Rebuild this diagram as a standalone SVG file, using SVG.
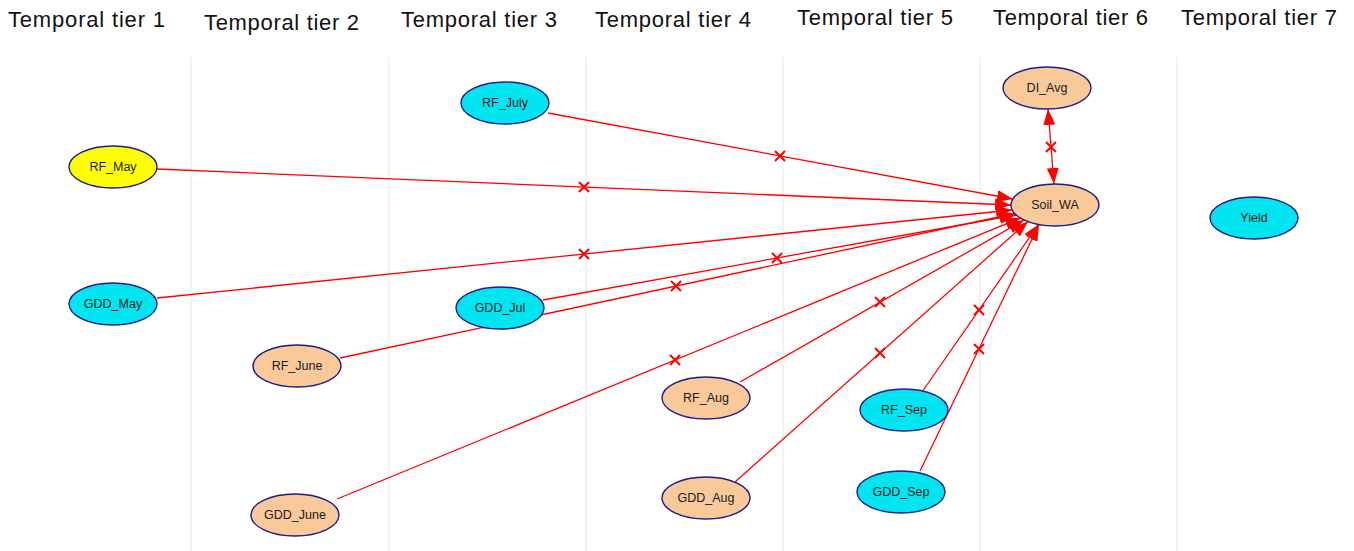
<svg xmlns="http://www.w3.org/2000/svg" width="1354" height="551" viewBox="0 0 1354 551">
<defs>
<style>
.hdr{font-family:"Liberation Sans",Arial,sans-serif;font-size:22px;fill:#111}
.grid{stroke:#ececec;stroke-width:1.2}
.node ellipse{stroke:#1c1c8a;stroke-width:1.4}
.node text{font-family:"Liberation Sans",Arial,sans-serif;font-size:12.5px;fill:#1a1a1a;text-anchor:middle}
.yel{fill:#ffff00}
.cy{fill:#00e5ef}
.pe{fill:#f9c99a}
.edge{stroke:#ff0000;stroke-width:1.3;fill:none}
.xm{stroke:#ff0000;stroke-width:2;fill:none}
</style>
<marker id="ah" viewBox="0 0 16 12" refX="16" refY="6" markerWidth="16" markerHeight="12" markerUnits="userSpaceOnUse" orient="auto-start-reverse">
<path d="M0,0 L16,6 L0,12 Z" fill="#ff0000"/>
</marker>
<path id="x" d="M-5,-5 L5,5 M-5,5 L5,-5"/>
</defs>
<rect width="1354" height="551" fill="#ffffff"/>
<g id="grid">
<line class="grid" x1="191" y1="57" x2="191" y2="551"/>
<line class="grid" x1="389" y1="57" x2="389" y2="551"/>
<line class="grid" x1="586" y1="57" x2="586" y2="551"/>
<line class="grid" x1="783" y1="57" x2="783" y2="551"/>
<line class="grid" x1="980" y1="57" x2="980" y2="551"/>
<line class="grid" x1="1177" y1="57" x2="1177" y2="551"/>
</g>
<g id="headers">
<text class="hdr" x="8" y="27" textLength="157">Temporal tier 1</text>
<text class="hdr" x="204" y="30" textLength="155">Temporal tier 2</text>
<text class="hdr" x="401" y="27" textLength="156">Temporal tier 3</text>
<text class="hdr" x="595" y="27" textLength="156">Temporal tier 4</text>
<text class="hdr" x="797" y="25" textLength="156">Temporal tier 5</text>
<text class="hdr" x="993" y="25" textLength="155">Temporal tier 6</text>
<text class="hdr" x="1181" y="25" textLength="156">Temporal tier 7</text>
</g>
<g id="connectors">
<line class="edge" x1="548" y1="113" x2="1013" y2="199" marker-end="url(#ah)"/>
<line class="edge" x1="157" y1="169" x2="1011" y2="205" marker-end="url(#ah)"/>
<line class="edge" x1="157" y1="298" x2="1012" y2="210" marker-end="url(#ah)"/>
<line class="edge" x1="543" y1="300" x2="1016" y2="215" marker-end="url(#ah)"/>
<line class="edge" x1="340" y1="358" x2="1015" y2="213.5" marker-end="url(#ah)"/>
<line class="edge" x1="337" y1="499" x2="1021" y2="217.7" marker-end="url(#ah)"/>
<line class="edge" x1="740" y1="382" x2="1024" y2="220" marker-end="url(#ah)"/>
<line class="edge" x1="735" y1="482" x2="1028" y2="221.4" marker-end="url(#ah)"/>
<line class="edge" x1="922" y1="392" x2="1038.5" y2="224.4" marker-end="url(#ah)"/>
<line class="edge" x1="920" y1="471" x2="1039" y2="224.6" marker-end="url(#ah)"/>
<line class="edge" x1="1048" y1="109" x2="1054" y2="184" marker-start="url(#ah)" marker-end="url(#ah)"/>
<use href="#x" class="xm" x="780" y="156"/>
<use href="#x" class="xm" x="584" y="187"/>
<use href="#x" class="xm" x="584" y="254"/>
<use href="#x" class="xm" x="777" y="258"/>
<use href="#x" class="xm" x="676" y="286"/>
<use href="#x" class="xm" x="675" y="360"/>
<use href="#x" class="xm" x="880" y="302"/>
<use href="#x" class="xm" x="880" y="353"/>
<use href="#x" class="xm" x="979" y="310"/>
<use href="#x" class="xm" x="979" y="349"/>
<use href="#x" class="xm" x="1051" y="147"/>
</g>
<g id="RF_May" class="node"><ellipse class="yel" cx="113" cy="167" rx="44" ry="21"/><text x="113" y="171">RF_May</text></g>
<g id="GDD_May" class="node"><ellipse class="cy" cx="113" cy="304" rx="44" ry="21"/><text x="113" y="308">GDD_May</text></g>
<g id="RF_June" class="node"><ellipse class="pe" cx="297" cy="366" rx="44" ry="21"/><text x="297" y="370">RF_June</text></g>
<g id="GDD_June" class="node"><ellipse class="pe" cx="295" cy="515" rx="44" ry="21"/><text x="295" y="519">GDD_June</text></g>
<g id="RF_July" class="node"><ellipse class="cy" cx="505" cy="103" rx="44" ry="21"/><text x="505" y="107">RF_July</text></g>
<g id="GDD_Jul" class="node"><ellipse class="cy" cx="500" cy="308" rx="44" ry="21"/><text x="500" y="312">GDD_Jul</text></g>
<g id="RF_Aug" class="node"><ellipse class="pe" cx="706" cy="398" rx="44" ry="21"/><text x="706" y="402">RF_Aug</text></g>
<g id="GDD_Aug" class="node"><ellipse class="pe" cx="706" cy="498" rx="44" ry="21"/><text x="706" y="502">GDD_Aug</text></g>
<g id="RF_Sep" class="node"><ellipse class="cy" cx="904" cy="410" rx="44" ry="21"/><text x="904" y="414">RF_Sep</text></g>
<g id="GDD_Sep" class="node"><ellipse class="cy" cx="901" cy="492" rx="44" ry="21"/><text x="901" y="496">GDD_Sep</text></g>
<g id="DI_Avg" class="node"><ellipse class="pe" cx="1047" cy="88" rx="44" ry="21"/><text x="1047" y="92">DI_Avg</text></g>
<g id="Soil_WA" class="node"><ellipse class="pe" cx="1055" cy="205" rx="44" ry="21"/><text x="1055" y="209">Soil_WA</text></g>
<g id="Yield" class="node"><ellipse class="cy" cx="1254" cy="218" rx="44" ry="21"/><text x="1254" y="222">Yield</text></g>
</svg>
